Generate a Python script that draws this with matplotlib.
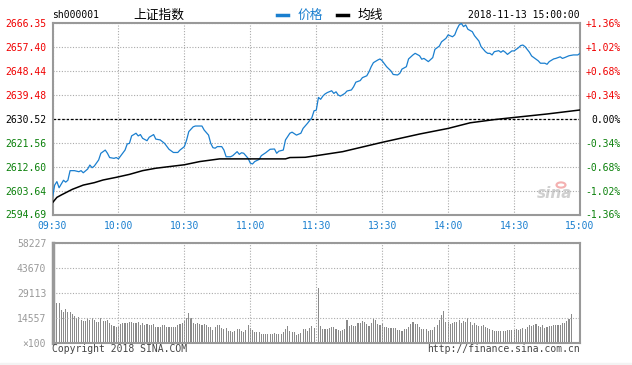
import matplotlib.pyplot as plt

plt.rcParams["font.family"] = ["DejaVu Sans Mono", "Noto Sans CJK SC"]

# 分时价格：分钟序号(0=09:30, 120=11:30/13:00, 240=15:00) 与点位
price_min = [0, 1, 2, 3, 5, 6, 7, 8, 10, 12, 13, 14, 16, 17, 18, 19, 21, 22, 24, 25,
             26, 28, 29, 30, 31, 33, 34, 35, 36, 38, 39, 40, 41, 43, 44, 46, 47, 49, 51, 53,
             55, 57, 58, 60, 61, 62, 64, 65, 68, 69, 71, 72, 73, 74, 75, 77, 78, 79, 81, 82,
             84, 85, 86, 87, 89, 90, 91, 92, 94, 95, 97, 99, 101, 102, 103, 105, 106, 108, 109, 111,
             113, 114, 116, 118, 119, 120, 121, 122, 123, 124, 125, 127, 128, 129, 130, 131, 133, 134, 136, 137,
             138, 140, 141, 143, 144, 145, 146, 148, 149, 150, 152, 154, 155, 157, 158, 159, 161, 162, 164, 165,
             167, 168, 169, 171, 173, 174, 176, 177, 179, 180, 182, 183, 184, 185, 186, 187, 188, 189, 191, 192,
             194, 195, 197, 198, 199, 200, 201, 203, 204, 205, 206, 207, 209, 210, 212, 213, 214, 215, 217, 218,
             219, 221, 222, 224, 225, 226, 228, 229, 231, 232, 233, 235, 237, 239, 240]
price_val = [2601.1, 2605.7, 2607.0, 2604.7, 2607.5, 2606.8, 2607.5, 2611.1, 2611.1, 2610.7,
             2611.1, 2610.3, 2611.7, 2613.2, 2612.2, 2612.8, 2615.1, 2617.6, 2618.8, 2617.6,
             2616.0, 2615.7, 2616.0, 2615.5, 2616.6, 2618.8, 2621.1, 2621.3, 2624.1, 2625.1,
             2624.1, 2624.6, 2623.2, 2622.3, 2623.6, 2624.6, 2622.9, 2622.6, 2621.3, 2619.1,
             2617.9, 2617.9, 2618.8, 2620.1, 2622.5, 2625.7, 2627.5, 2627.8, 2627.8, 2626.3,
             2624.4, 2621.3, 2619.7, 2619.5, 2620.1, 2620.1, 2618.8, 2616.3, 2616.3, 2616.7,
             2618.2, 2617.2, 2617.8, 2617.6, 2615.7, 2613.9, 2613.6, 2614.5, 2615.3, 2616.7,
             2617.8, 2619.1, 2619.2, 2617.6, 2618.4, 2618.8, 2622.6, 2625.1, 2625.5, 2624.4,
             2625.1, 2626.9, 2628.8, 2630.9, 2633.5, 2633.7, 2638.5, 2637.8, 2639.0, 2639.8,
             2640.3, 2641.0, 2640.0, 2640.6, 2639.4, 2639.0, 2640.0, 2640.9, 2641.3, 2642.5,
             2644.2, 2644.8, 2645.9, 2646.6, 2648.1, 2650.0, 2651.5, 2652.5, 2652.9, 2652.2,
             2650.0, 2648.4, 2647.1, 2646.9, 2647.5, 2649.1, 2650.0, 2652.9, 2654.4, 2655.0,
             2654.1, 2652.8, 2653.1, 2651.9, 2653.4, 2656.5, 2657.7, 2659.3, 2660.6, 2661.9,
             2661.2, 2661.9, 2664.0, 2665.6, 2666.2, 2665.0, 2665.6, 2664.0, 2663.1, 2661.6,
             2659.6, 2657.5, 2655.6, 2655.0, 2655.0, 2654.4, 2655.6, 2656.0, 2655.4, 2656.0,
             2655.4, 2654.6, 2655.9, 2655.9, 2657.1, 2657.9, 2658.1, 2657.5, 2655.4, 2654.0,
             2653.4, 2652.2, 2651.3, 2651.3, 2650.9, 2651.9, 2652.9, 2653.1, 2653.7, 2653.1,
             2653.4, 2654.1, 2654.4, 2654.4, 2655.0]

# 均线
avg_min = [0, 2, 4, 9, 14, 19, 23, 29, 35, 41, 47, 53, 60, 67, 76, 90, 106, 108, 115, 120,
           132, 150, 167, 180, 190, 201, 210, 225, 240]
avg_val = [2599.1, 2601.1, 2602.0, 2604.1, 2605.7, 2606.6, 2607.6, 2608.6, 2609.7, 2611.1,
           2612.0, 2612.6, 2613.3, 2614.5, 2615.5, 2615.5, 2615.5, 2616.0, 2616.1, 2616.7,
           2618.2, 2621.7, 2624.8, 2626.9, 2629.0, 2630.2, 2631.0, 2632.3, 2633.8]

# 成交量（手/100），上午从第1分钟起，下午从第121分钟起
vol_am = [25100, 23200, 23200, 19300, 17900, 19900, 17900, 17900, 17100, 15800,
          14400, 15200, 13400, 12800, 12800, 14000, 13400, 14400, 13400, 12300,
          12300, 14400, 13000, 13000, 13400, 11900, 10500, 9900, 9500, 9500,
          11100, 11500, 11900, 11500, 12300, 12300, 11500, 11900, 12300, 10500,
          11900, 10500, 11100, 10700, 10700, 11100, 9500, 9500, 9500, 10500,
          10500, 9500, 9500, 9100, 9500, 9100, 10500, 10900, 11500, 12800,
          14400, 17300, 14400, 11500, 11100, 11500, 11100, 10500, 11100, 10500,
          9500, 9500, 7600, 9100, 10500, 10500, 8600, 8200, 8600, 7000,
          7000, 6200, 7000, 8000, 8000, 7000, 6200, 7600, 10500, 8900,
          7600, 6600, 6200, 6200, 5400, 5400, 5400, 5400, 5100, 5100,
          6000, 5400, 5400, 5400, 6600, 8200, 10100, 7000, 6600, 6600,
          4700, 5400, 6000, 8200, 8200, 7000, 8900, 10100, 8900]
vol_pm = [31900, 9900, 8200, 8200, 8200, 8900, 9300, 9300, 8200, 7600,
          7000, 7600, 8200, 13400, 10100, 10500, 9900, 9900, 11500, 11500,
          12800, 12100, 11100, 9900, 11700, 14400, 13400, 11100, 10500, 11100,
          9500, 9500, 8900, 8900, 8900, 8900, 7600, 7600, 7000, 8200,
          8200, 9500, 11100, 12100, 11100, 11100, 9300, 8200, 8200, 8200,
          7000, 7600, 7600, 9300, 10500, 13200, 16400, 18700, 12100, 12100,
          10900, 11500, 12100, 12100, 13400, 11500, 12800, 12500, 14400, 12500,
          10500, 11700, 10500, 9900, 9900, 10500, 9300, 8900, 8200, 7600,
          7000, 7000, 7000, 7000, 7000, 7000, 7600, 7600, 7600, 7600,
          8200, 7600, 8200, 8600, 8200, 9300, 10500, 10100, 10500, 11100,
          10100, 9500, 10500, 8900, 9500, 9900, 9900, 10500, 10500, 10500,
          10500, 11500, 11500, 12800, 14000, 17000, 400]

time_ticks = [0, 30, 60, 90, 120, 150, 180, 210, 240]
time_labels = ["09:30", "10:00", "10:30", "11:00", "11:30", "13:30", "14:00", "14:30", "15:00"]
price_ticks = [2594.69, 2603.64, 2612.60, 2621.56, 2630.52, 2639.48, 2648.44, 2657.40, 2666.35]
pct_labels = ["-1.36%", "-1.02%", "-0.68%", "-0.34%", "0.00%", "+0.34%", "+0.68%", "+1.02%", "+1.36%"]
vol_ticks = [0, 14557, 29113, 43670, 58227]
vol_labels = ["×100", "14557", "29113", "43670", "58227"]
prev_close = 2630.52

W, H = 632, 365
BLUE = "#1a7fcf"
RED = "#f00000"
GREEN = "#0a800a"
GRAY = "#999999"
fig = plt.figure(figsize=(W / 100, H / 100), dpi=100)


def box(l, t, r, b):
    return [l / W, 1 - b / H, (r - l) / W, (b - t) / H]


grid_kw = dict(color="#aaaaaa", linewidth=0.8, linestyle=(0, (1, 1.5)))

# ---- 价格面板 ----
ax = fig.add_axes(box(52.5, 23, 580, 214.5))
ax.plot(price_min, price_val, color=BLUE, linewidth=0.9, zorder=3)
ax.plot(avg_min, avg_val, color="black", linewidth=1.1, zorder=3)
ax.axhline(prev_close, color="black", linewidth=0.9, linestyle=(0, (2, 1.5)), zorder=2)
ax.set_xlim(0, 240)
ax.set_ylim(price_ticks[0], price_ticks[-1])
ax.set_xticks(time_ticks)
ax.set_xticklabels(time_labels, color=BLUE, fontsize=7)
ax.set_yticks(price_ticks)
ax.set_yticklabels(["%.2f" % p for p in price_ticks], fontsize=7)
for i, t in enumerate(ax.get_yticklabels()):
    t.set_color(GREEN if i < 4 else ("black" if i == 4 else RED))
ax.tick_params(length=0, pad=4.5)
ax.tick_params(axis="x", pad=5)
ax.grid(True, **grid_kw)
for s in ax.spines.values():
    s.set_color(GRAY)
    s.set_linewidth(1.5)

ax2 = ax.twinx()
ax2.set_ylim(price_ticks[0], price_ticks[-1])
ax2.set_yticks(price_ticks)
ax2.set_yticklabels(pct_labels, fontsize=7, ha="right")
for i, t in enumerate(ax2.get_yticklabels()):
    t.set_color(GREEN if i < 4 else ("black" if i == 4 else RED))
ax2.tick_params(length=0, pad=29.5)
for s in ax2.spines.values():
    s.set_visible(False)

# 新浪水印
ax.text(0.985, 0.07, "sina", transform=ax.transAxes, ha="right", va="bottom",
        fontsize=11, style="italic", fontweight="bold", color="#d0d0d0",
        family="DejaVu Sans", zorder=1)
fig.patches.append(plt.Circle((561 / W, 1 - 185 / H), 4.5 / W, transform=fig.transFigure,
                              fill=False, edgecolor="#f4b0b0", linewidth=1.5))

# ---- 成交量面板 ----
axv = fig.add_axes(box(52.5, 243.3, 580, 343))
axv.bar([1 + i for i in range(len(vol_am))], vol_am, width=0.5, color="#8a8a8a", linewidth=0)
axv.bar([121 + i for i in range(len(vol_pm))], vol_pm, width=0.5, color="#8a8a8a", linewidth=0)
axv.set_xlim(0, 240)
axv.set_ylim(0, vol_ticks[-1])
axv.set_xticks(time_ticks)
axv.set_xticklabels([])
axv.set_yticks(vol_ticks)
axv.set_yticklabels(vol_labels, fontsize=7, color=GRAY)
axv.tick_params(length=0, pad=4.5)
axv.grid(True, **grid_kw)
for s in axv.spines.values():
    s.set_color(GRAY)
    s.set_linewidth(1.5)
axv.spines["left"].set_linewidth(2.5)

# ---- 标题与图例 ----
fig.text(52.5 / W, 1 - 15 / H, "sh000001", fontsize=7, va="center", ha="left")
fig.text(133 / W, 1 - 15 / H, "上证指数", fontsize=9.2, va="center", ha="left",
         family="Noto Sans CJK SC")
fig.lines.append(plt.Line2D([277 / W, 288 / W], [1 - 15 / H] * 2, color=BLUE,
                            linewidth=2.5, transform=fig.transFigure))
fig.text(298 / W, 1 - 15 / H, "价格", fontsize=9.2, va="center", ha="left",
         color=BLUE, family="Noto Sans CJK SC")
fig.lines.append(plt.Line2D([337 / W, 348 / W], [1 - 15 / H] * 2, color="black",
                            linewidth=2.5, transform=fig.transFigure))
fig.text(358 / W, 1 - 15 / H, "均线", fontsize=9.2, va="center", ha="left",
         family="Noto Sans CJK SC")
fig.text(580 / W, 1 - 15 / H, "2018-11-13 15:00:00", fontsize=7, va="center", ha="right")

fig.text(52 / W, 1 - 349 / H, "Copyright 2018 SINA.COM", fontsize=7, va="center",
         ha="left", color="#444444")
fig.text(580 / W, 1 - 349 / H, "http://finance.sina.com.cn", fontsize=7, va="center",
         ha="right", color="#444444")

fig.patches.append(plt.Rectangle((0, 0), 1, 2.5 / H, transform=fig.transFigure,
                                 color="#f3f3f3", zorder=0))

fig.savefig("out.png", dpi=100)
